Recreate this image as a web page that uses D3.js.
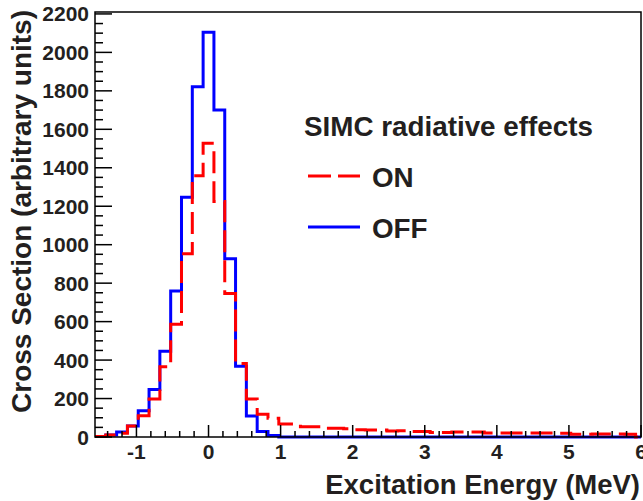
<!DOCTYPE html>
<html>
<head>
<meta charset="utf-8">
<script src="https://cdn.jsdelivr.net/npm/d3@7"></script>
<style>
  html, body { margin: 0; padding: 0; background: #fff; }
  svg { display: block; }
  text { font-family: "Liberation Sans", Arial, sans-serif; font-weight: bold; fill: #231f20; }
</style>
</head>
<body>
<svg id="chart" width="643" height="501"></svg>
<script>
// Histogram binning (MeV)
const firstBinCenter = -1.5;
const binWidth = 0.15;

// Cross section per bin, SIMC radiative effects OFF
const offValues = [2, 10, 26, 57, 137, 247, 446, 759, 1247, 1821, 2105, 1700, 927, 368, 109, 28, 8,
  0, 0, 0, 0, 0, 0, 0, 0, 0, 0, 0, 0, 0, 0, 0, 0, 0, 0, 0, 0, 0, 0, 0, 0, 0, 0, 0, 0, 0, 0, 0, 0, 0, 0];

// Cross section per bin, SIMC radiative effects ON
const onValues = [2, 10, 19, 57, 111, 197, 365, 586, 953, 1358, 1527, 1225, 746, 382, 197, 118, 97,
  67, 67, 53, 53, 46, 46, 43, 38, 36, 36, 31, 33, 28, 28, 24, 24, 26, 26, 26, 21, 21, 21, 21, 21, 21, 21,
  19, 14, 14, 16, 16, 16, 14, 0];

const xTicks = [-1, 0, 1, 2, 3, 4, 5, 6];
const yTicks = [0, 200, 400, 600, 800, 1000, 1200, 1400, 1600, 1800, 2000, 2200];

const legendTitle = "SIMC radiative effects";
const seriesNames = ["ON", "OFF"];
const xTitle = "Excitation Energy (MeV)";
const yTitle = "Cross Section (arbitrary units)";

const svg = d3.select("#chart");
const frame = { left: 95, right: 641, top: 12, bottom: 437 };

const x = d3.scaleLinear().domain([-1.575, 6.0]).range([frame.left, frame.right]);
const y = d3.scaleLinear().domain([0, 2210]).range([frame.bottom, frame.top]);

// Build a stepped outline for a histogram, clipped to the x domain
function stepPath(values) {
  const [x0, x1] = x.domain();
  const pts = [];
  values.forEach((v, i) => {
    const c = firstBinCenter + i * binWidth;
    const lo = Math.max(x0, c - binWidth / 2);
    const hi = Math.min(x1, c + binWidth / 2);
    pts.push([x(lo), y(v)], [x(hi), y(v)]);
  });
  return d3.line()(pts);
}

svg.append("clipPath").attr("id", "plotClip")
  .append("rect").attr("x", frame.left).attr("y", frame.top - 2)
  .attr("width", frame.right - frame.left + 2).attr("height", frame.bottom - frame.top + 4);

const plot = svg.append("g").attr("clip-path", "url(#plotClip)");

plot.append("path")
  .attr("d", stepPath(offValues))
  .attr("fill", "none").attr("stroke", "#0000ff").attr("stroke-width", 3);

plot.append("path")
  .attr("d", stepPath(onValues))
  .attr("fill", "none").attr("stroke", "#ff0000").attr("stroke-width", 3)
  .attr("stroke-dasharray", "22,8");

// Frame
svg.append("rect")
  .attr("x", frame.left).attr("y", frame.top)
  .attr("width", frame.right - frame.left).attr("height", frame.bottom - frame.top)
  .attr("fill", "none").attr("stroke", "#000").attr("stroke-width", 1.5);

// Y axis ticks (inward) and labels
const yMinor = d3.range(0, 2201, 50);
const yAxis = svg.append("g").attr("transform", `translate(${frame.left},0)`);
yAxis.selectAll("line").data(yMinor).join("line")
  .attr("x1", 0).attr("x2", d => d % 200 === 0 ? 17 : 8)
  .attr("y1", d => y(d)).attr("y2", d => y(d))
  .attr("stroke", "#000").attr("stroke-width", 1.5);
yAxis.selectAll("text").data(yTicks).join("text")
  .attr("x", -6).attr("y", d => y(d))
  .attr("dy", "0.36em")
  .attr("text-anchor", "end")
  .attr("font-size", 21)
  .text(d => d3.format("d")(d));

// X axis ticks (inward) and labels
const xMinor = d3.range(-1.4, 6.001, 0.2);
const xAxis = svg.append("g").attr("transform", `translate(0,${frame.bottom})`);
xAxis.selectAll("line").data(xMinor).join("line")
  .attr("x1", d => x(d)).attr("x2", d => x(d))
  .attr("y1", 0).attr("y2", d => Math.abs(d - Math.round(d)) < 1e-6 ? -12 : -6)
  .attr("stroke", "#000").attr("stroke-width", 1.5);
xAxis.selectAll("text").data(xTicks).join("text")
  .attr("x", d => x(d)).attr("y", 22)
  .attr("text-anchor", "middle")
  .attr("font-size", 21)
  .text(d => d < 0 ? "-" + Math.abs(d) : String(d));

// Axis titles
svg.append("text")
  .attr("x", 640).attr("y", 494)
  .attr("text-anchor", "end")
  .attr("font-size", 27.5)
  .text(xTitle);

svg.append("text")
  .attr("transform", "translate(31,10) rotate(-90)")
  .attr("text-anchor", "end")
  .attr("font-size", 28)
  .text(yTitle);

// Legend
const legend = svg.append("g");
legend.append("text").attr("x", 304).attr("y", 136).attr("font-size", 27.8).text(legendTitle);
const legendRows = [
  { name: seriesNames[0], color: "#ff0000", dash: "23,7", y: 176 },
  { name: seriesNames[1], color: "#0000ff", dash: null, y: 227 }
];
legendRows.forEach(r => {
  legend.append("line")
    .attr("x1", 308).attr("x2", 360).attr("y1", r.y).attr("y2", r.y)
    .attr("stroke", r.color).attr("stroke-width", 3)
    .attr("stroke-dasharray", r.dash);
  legend.append("text").attr("x", 372).attr("y", r.y + 11).attr("font-size", 27.8).text(r.name);
});
</script>
</body>
</html>
